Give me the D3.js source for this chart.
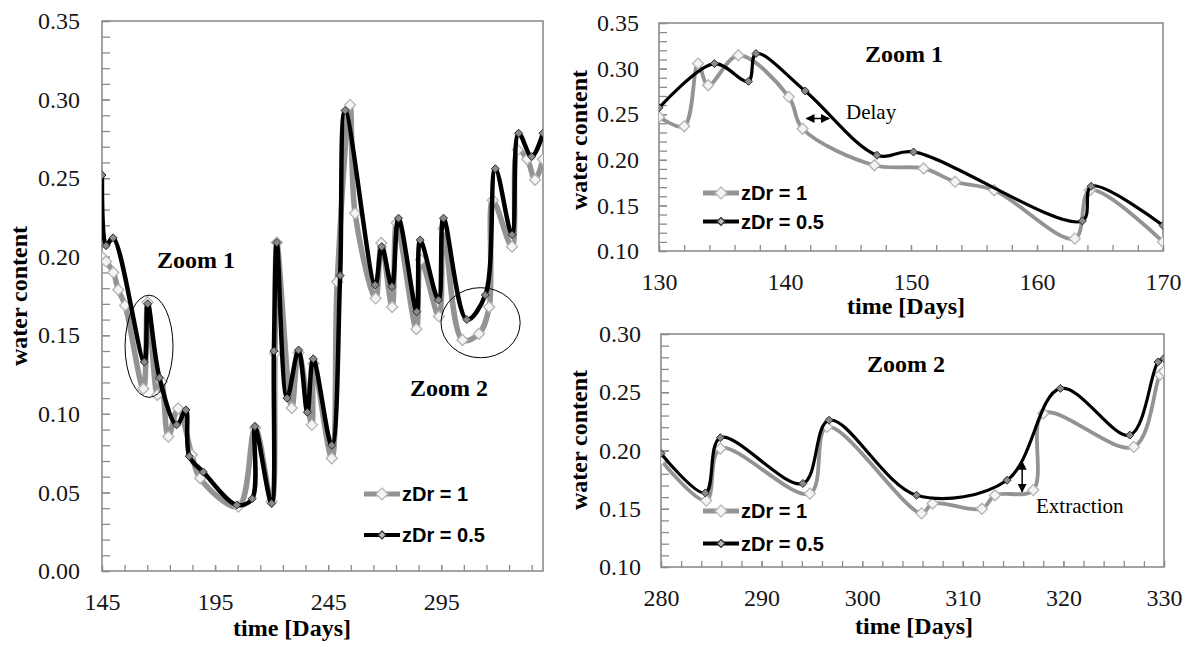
<!DOCTYPE html>
<meta charset="utf-8">

<head>
  <title>water content, zDr = 1 vs zDr = 0.5</title>
  <script src="https://d3js.org/d3.v7.min.js"></script>
  <style>
    body { margin: 0; background: #fff; }
    .tick line { stroke: #8c8c8c; stroke-width: 1.3; }
    .frame { fill: none; stroke: #8c8c8c; stroke-width: 1.6; }
    .title { font-family: "Liberation Serif", "Times New Roman", serif; font-weight: bold; font-size: 24px; fill: #000; }
    .note { font-family: "Liberation Serif", "Times New Roman", serif; font-size: 21px; fill: #000; }
    .leg { font-family: "Liberation Sans", Arial, sans-serif; font-weight: bold; font-size: 20px; fill: #000; }
  </style>
</head>

<body>
  <div id="chart"></div>

  <script>
    // left panel, whole season
    var mainDaysB = [145, 146.8, 149.9, 163.7, 165.2, 170.4, 178, 182.1, 183.6, 189.8, 204.6, 211.4, 212.6, 220, 221, 222.3, 226.8, 231.9, 235.8, 238.4, 246.6, 250.3, 252.5, 265.8, 268.7, 273.2, 276.1, 284.2, 285.7, 293.8, 296, 306.3, 314.5, 318.9, 326.3, 329.2, 335, 340];
    var mainValsB = [0.252, 0.207, 0.212, 0.133, 0.170, 0.123, 0.093, 0.1025, 0.073, 0.063, 0.042, 0.046, 0.092, 0.043, 0.140, 0.209, 0.110, 0.1406, 0.101, 0.135, 0.080, 0.188, 0.293, 0.182, 0.2064, 0.181, 0.2245, 0.165, 0.2106, 0.1725, 0.2245, 0.160, 0.1756, 0.256, 0.214, 0.2786, 0.2637, 0.2786];
    var mainDaysG = [145, 146.8, 150, 152.2, 155.2, 163.3, 165.2, 169.5, 171.4, 174.3, 178.7, 184.7, 188.4, 205.3, 212.7, 220, 221.5, 222.3, 228.9, 231.9, 237.8, 238.6, 246.6, 249, 254.7, 256.9, 266, 268.5, 273.3, 275.3, 284, 286, 294, 296, 304.4, 311.7, 316.2, 317.8, 326.3, 328.8, 333, 336.5, 340];
    var mainValsG = [0.2, 0.197, 0.19, 0.179, 0.169, 0.116, 0.171, 0.112, 0.1205, 0.0855, 0.1035, 0.074, 0.059, 0.041, 0.091, 0.044, 0.1385, 0.209, 0.1037, 0.139, 0.093, 0.132, 0.0717, 0.184, 0.2966, 0.2276, 0.1735, 0.2087, 0.168, 0.2215, 0.154, 0.198, 0.162, 0.218, 0.147, 0.151, 0.168, 0.236, 0.2064, 0.268, 0.262, 0.249, 0.262];
    var mainXLabels = [145, 195, 245, 295];
    var mainYLabels = [0, 0.05, 0.10, 0.15, 0.20, 0.25, 0.30, 0.35];

    // Zoom 1
    var z1DaysB = [130, 134.4, 137.1, 137.7, 141.6, 147.3, 150.2, 163.6, 164.3, 170];
    var z1ValsB = [0.257, 0.3055, 0.286, 0.3165, 0.2755, 0.205, 0.2086, 0.133, 0.171, 0.128];
    var z1DaysG = [130, 132, 133.1, 133.9, 136.3, 140.3, 141.4, 147.1, 151, 153.5, 156.6, 163, 164.2, 170];
    var z1ValsG = [0.247, 0.2367, 0.3055, 0.2817, 0.3146, 0.269, 0.234, 0.194, 0.1905, 0.176, 0.1666, 0.1136, 0.1666, 0.110];
    var z1XLabels = [130, 140, 150, 160, 170];
    var z1YLabels = [0.10, 0.15, 0.20, 0.25, 0.30, 0.35];

    // Zoom 2
    var z2DaysB = [280, 284.4, 285.9, 294.1, 296.7, 305.4, 314.4, 319.7, 326.6, 329.4, 330];
    var z2ValsB = [0.1975, 0.1636, 0.211, 0.1717, 0.226, 0.1616, 0.1745, 0.2533, 0.2132, 0.276, 0.279];
    var z2DaysG = [280, 284.5, 285.9, 294.8, 296.5, 305.9, 307, 311.9, 313.2, 317, 318, 327, 329.6, 330];
    var z2ValsG = [0.1917, 0.157, 0.2017, 0.163, 0.2203, 0.146, 0.1545, 0.150, 0.1616, 0.166, 0.2318, 0.2031, 0.265, 0.268];
    var z2XLabels = [280, 290, 300, 310, 320, 330];
    var z2YLabels = [0.10, 0.15, 0.20, 0.25, 0.30];

    var seriesNames = ["zDr = 1", "zDr = 0.5"];

    var svg = d3.select("#chart")
      .append("svg")
      .attr("width", 1195)
      .attr("height", 647);

    var defs = svg.append("defs");
    defs.append("marker")
      .attr("id", "head")
      .attr("viewBox", "0 0 10 10")
      .attr("refX", 9).attr("refY", 5)
      .attr("markerWidth", 9).attr("markerHeight", 9)
      .attr("markerUnits", "userSpaceOnUse")
      .attr("orient", "auto-start-reverse")
      .append("path")
      .attr("d", "M0,0L10,5L0,10Z")
      .attr("fill", "#000");

    function diamond(r) {
      return "M0," + (-r) + "L" + r + ",0L0," + r + "L" + (-r) + ",0Z";
    }

    function tickFont(a) {
      a.select(".domain").remove();
      a.selectAll("text")
        .style("font-family", "'Liberation Serif', 'Times New Roman', serif")
        .style("font-size", "24px")
        .style("fill", "#161616");
    }

    var panelCount = 0;

    function panel(p) {
      var id = "clip" + (panelCount++);
      var x = d3.scaleLinear().domain(p.xDomain).range([p.left, p.right]);
      var y = d3.scaleLinear().domain(p.yDomain).range([p.bottom, p.top]);
      var g = svg.append("g");

      defs.append("clipPath").attr("id", id)
        .append("rect")
        .attr("x", p.left).attr("y", p.top)
        .attr("width", p.right - p.left).attr("height", p.bottom - p.top);

      // minor ticks, pointing into the plot
      g.append("g")
        .attr("transform", "translate(0," + p.bottom + ")")
        .call(d3.axisBottom(x).tickValues(p.xMinor).tickSize(-6).tickSizeOuter(0).tickFormat(""))
        .call(tickFont);
      g.append("g")
        .attr("transform", "translate(" + p.left + ",0)")
        .call(d3.axisLeft(y).tickValues(p.yMinor).tickSize(-8).tickSizeOuter(0).tickFormat(""))
        .call(tickFont);

      // labelled ticks
      g.append("g")
        .attr("transform", "translate(0," + p.bottom + ")")
        .call(d3.axisBottom(x).tickValues(p.xLabels).tickSize(-6).tickSizeOuter(0).tickPadding(22).tickFormat(d3.format("d")))
        .call(tickFont);
      g.append("g")
        .attr("transform", "translate(" + p.left + ",0)")
        .call(d3.axisLeft(y).tickValues(p.yLabels).tickSize(-8).tickSizeOuter(0).tickPadding(p.yPad).tickFormat(d3.format(".2f")))
        .call(tickFont);

      g.append("rect")
        .attr("class", "frame")
        .attr("x", p.left).attr("y", p.top)
        .attr("width", p.right - p.left).attr("height", p.bottom - p.top);

      var line = d3.line()
        .x(d => x(d[0]))
        .y(d => y(d[1]))
        .curve(d3.curveCatmullRom.alpha(0.5));

      var plot = g.append("g").attr("clip-path", "url(#" + id + ")");

      var grey = d3.zip(p.daysG, p.valsG);
      var black = d3.zip(p.daysB, p.valsB);

      plot.append("path")
        .datum(grey)
        .attr("d", line)
        .attr("fill", "none")
        .attr("stroke", "#939393")
        .attr("stroke-width", p.wG)
        .attr("stroke-linejoin", "round");
      plot.selectAll(".mg")
        .data(grey)
        .enter()
        .append("path")
        .attr("transform", d => "translate(" + x(d[0]) + "," + y(d[1]) + ")")
        .attr("d", diamond(5.5))
        .attr("fill", "#f4f4f4")
        .attr("stroke", "#b4b4b4")
        .attr("stroke-width", 1.3);

      plot.append("path")
        .datum(black)
        .attr("d", line)
        .attr("fill", "none")
        .attr("stroke", "#000")
        .attr("stroke-width", p.wB)
        .attr("stroke-linejoin", "round");
      plot.selectAll(".mb")
        .data(black)
        .enter()
        .append("path")
        .attr("transform", d => "translate(" + x(d[0]) + "," + y(d[1]) + ")")
        .attr("d", diamond(4))
        .attr("fill", "#8a8a8a")
        .attr("stroke", "#2a2a2a")
        .attr("stroke-width", 1);

      // axis titles
      g.append("text")
        .attr("class", "title")
        .attr("text-anchor", "middle")
        .attr("x", p.xTitle[0]).attr("y", p.xTitle[1])
        .text("time [Days]");
      g.append("text")
        .attr("class", "title")
        .attr("text-anchor", "middle")
        .attr("transform", "translate(" + p.yTitle[0] + "," + p.yTitle[1] + ") rotate(-90)")
        .text("water content");

      // legend
      seriesNames.forEach((name, i) => {
        var ly = p.legend[1] + i * p.legend[2];
        var lg = g.append("g");
        lg.append("line")
          .attr("x1", p.legend[0]).attr("x2", p.legend[0] + 36)
          .attr("y1", ly).attr("y2", ly)
          .attr("stroke", i == 0 ? "#939393" : "#000")
          .attr("stroke-width", i == 0 ? 5 : 4);
        lg.append("path")
          .attr("transform", "translate(" + (p.legend[0] + 18) + "," + ly + ")")
          .attr("d", diamond(i == 0 ? 6 : 4))
          .attr("fill", i == 0 ? "#f4f4f4" : "#bdbdbd")
          .attr("stroke", i == 0 ? "#b4b4b4" : "#2a2a2a")
          .attr("stroke-width", 1.2);
        lg.append("text")
          .attr("class", "leg")
          .attr("x", p.legend[0] + 38)
          .attr("y", ly + 7)
          .text(name);
      });

      return { g: g, x: x, y: y };
    }

    var main = panel({
      left: 102, right: 543, top: 21, bottom: 571,
      xDomain: [145, 340], yDomain: [0, 0.35],
      xMinor: d3.range(145, 340, 10), yMinor: d3.range(0, 36).map(i => i / 100),
      xLabels: mainXLabels, yLabels: mainYLabels, yPad: 22,
      daysB: mainDaysB, valsB: mainValsB, daysG: mainDaysG, valsG: mainValsG,
      wB: 4.5, wG: 5.5,
      xTitle: [292, 636], yTitle: [27, 296],
      legend: [364, 494, 41]
    });

    var zoom1 = panel({
      left: 659, right: 1163, top: 23, bottom: 251,
      xDomain: [130, 170], yDomain: [0.10, 0.35],
      xMinor: d3.range(130, 171, 2), yMinor: d3.range(10, 36).map(i => i / 100),
      xLabels: z1XLabels, yLabels: z1YLabels, yPad: 20,
      daysB: z1DaysB, valsB: z1ValsB, daysG: z1DaysG, valsG: z1ValsG,
      wB: 3.2, wG: 3.8,
      xTitle: [906, 314], yTitle: [587, 140],
      legend: [703, 193, 28.5]
    });

    var zoom2 = panel({
      left: 661, right: 1164, top: 334, bottom: 567,
      xDomain: [280, 330], yDomain: [0.10, 0.30],
      xMinor: d3.range(280, 331, 2), yMinor: d3.range(10, 31).map(i => i / 100),
      xLabels: z2XLabels, yLabels: z2YLabels, yPad: 20,
      daysB: z2DaysB, valsB: z2ValsB, daysG: z2DaysG, valsG: z2ValsG,
      wB: 3.2, wG: 3.8,
      xTitle: [914, 634], yTitle: [587, 440],
      legend: [703, 511, 32.5]
    });

    // annotations
    main.g.append("text").attr("class", "title").attr("x", 157).attr("y", 268).text("Zoom 1");
    main.g.append("text").attr("class", "title").attr("x", 410).attr("y", 396).text("Zoom 2");
    main.g.append("ellipse")
      .attr("cx", main.x(165.8)).attr("cy", main.y(0.143))
      .attr("rx", main.x(176.4) - main.x(165.8)).attr("ry", main.y(0.143) - main.y(0.1755))
      .attr("fill", "none").attr("stroke", "#000").attr("stroke-width", 1);
    main.g.append("ellipse")
      .attr("cx", main.x(312.4)).attr("cy", main.y(0.158))
      .attr("rx", main.x(329.9) - main.x(312.4)).attr("ry", main.y(0.158) - main.y(0.1803))
      .attr("fill", "none").attr("stroke", "#000").attr("stroke-width", 1);

    zoom1.g.append("text").attr("class", "title").attr("x", 865).attr("y", 62).text("Zoom 1");
    zoom1.g.append("text").attr("class", "note").attr("x", 846).attr("y", 119).text("Delay");
    zoom1.g.append("line")
      .attr("x1", zoom1.x(141.7)).attr("x2", zoom1.x(143.5))
      .attr("y1", zoom1.y(0.2453)).attr("y2", zoom1.y(0.2453))
      .attr("stroke", "#000").attr("stroke-width", 1.5)
      .attr("marker-start", "url(#head)").attr("marker-end", "url(#head)");

    zoom2.g.append("text").attr("class", "title").attr("x", 867).attr("y", 372).text("Zoom 2");
    zoom2.g.append("text").attr("class", "note").attr("x", 1036).attr("y", 513).text("Extraction");
    zoom2.g.append("line")
      .attr("x1", zoom2.x(315.9)).attr("x2", zoom2.x(315.9))
      .attr("y1", zoom2.y(0.1905)).attr("y2", zoom2.y(0.1645))
      .attr("stroke", "#000").attr("stroke-width", 1.5)
      .attr("marker-start", "url(#head)").attr("marker-end", "url(#head)");
  </script>
</body>

</html>
